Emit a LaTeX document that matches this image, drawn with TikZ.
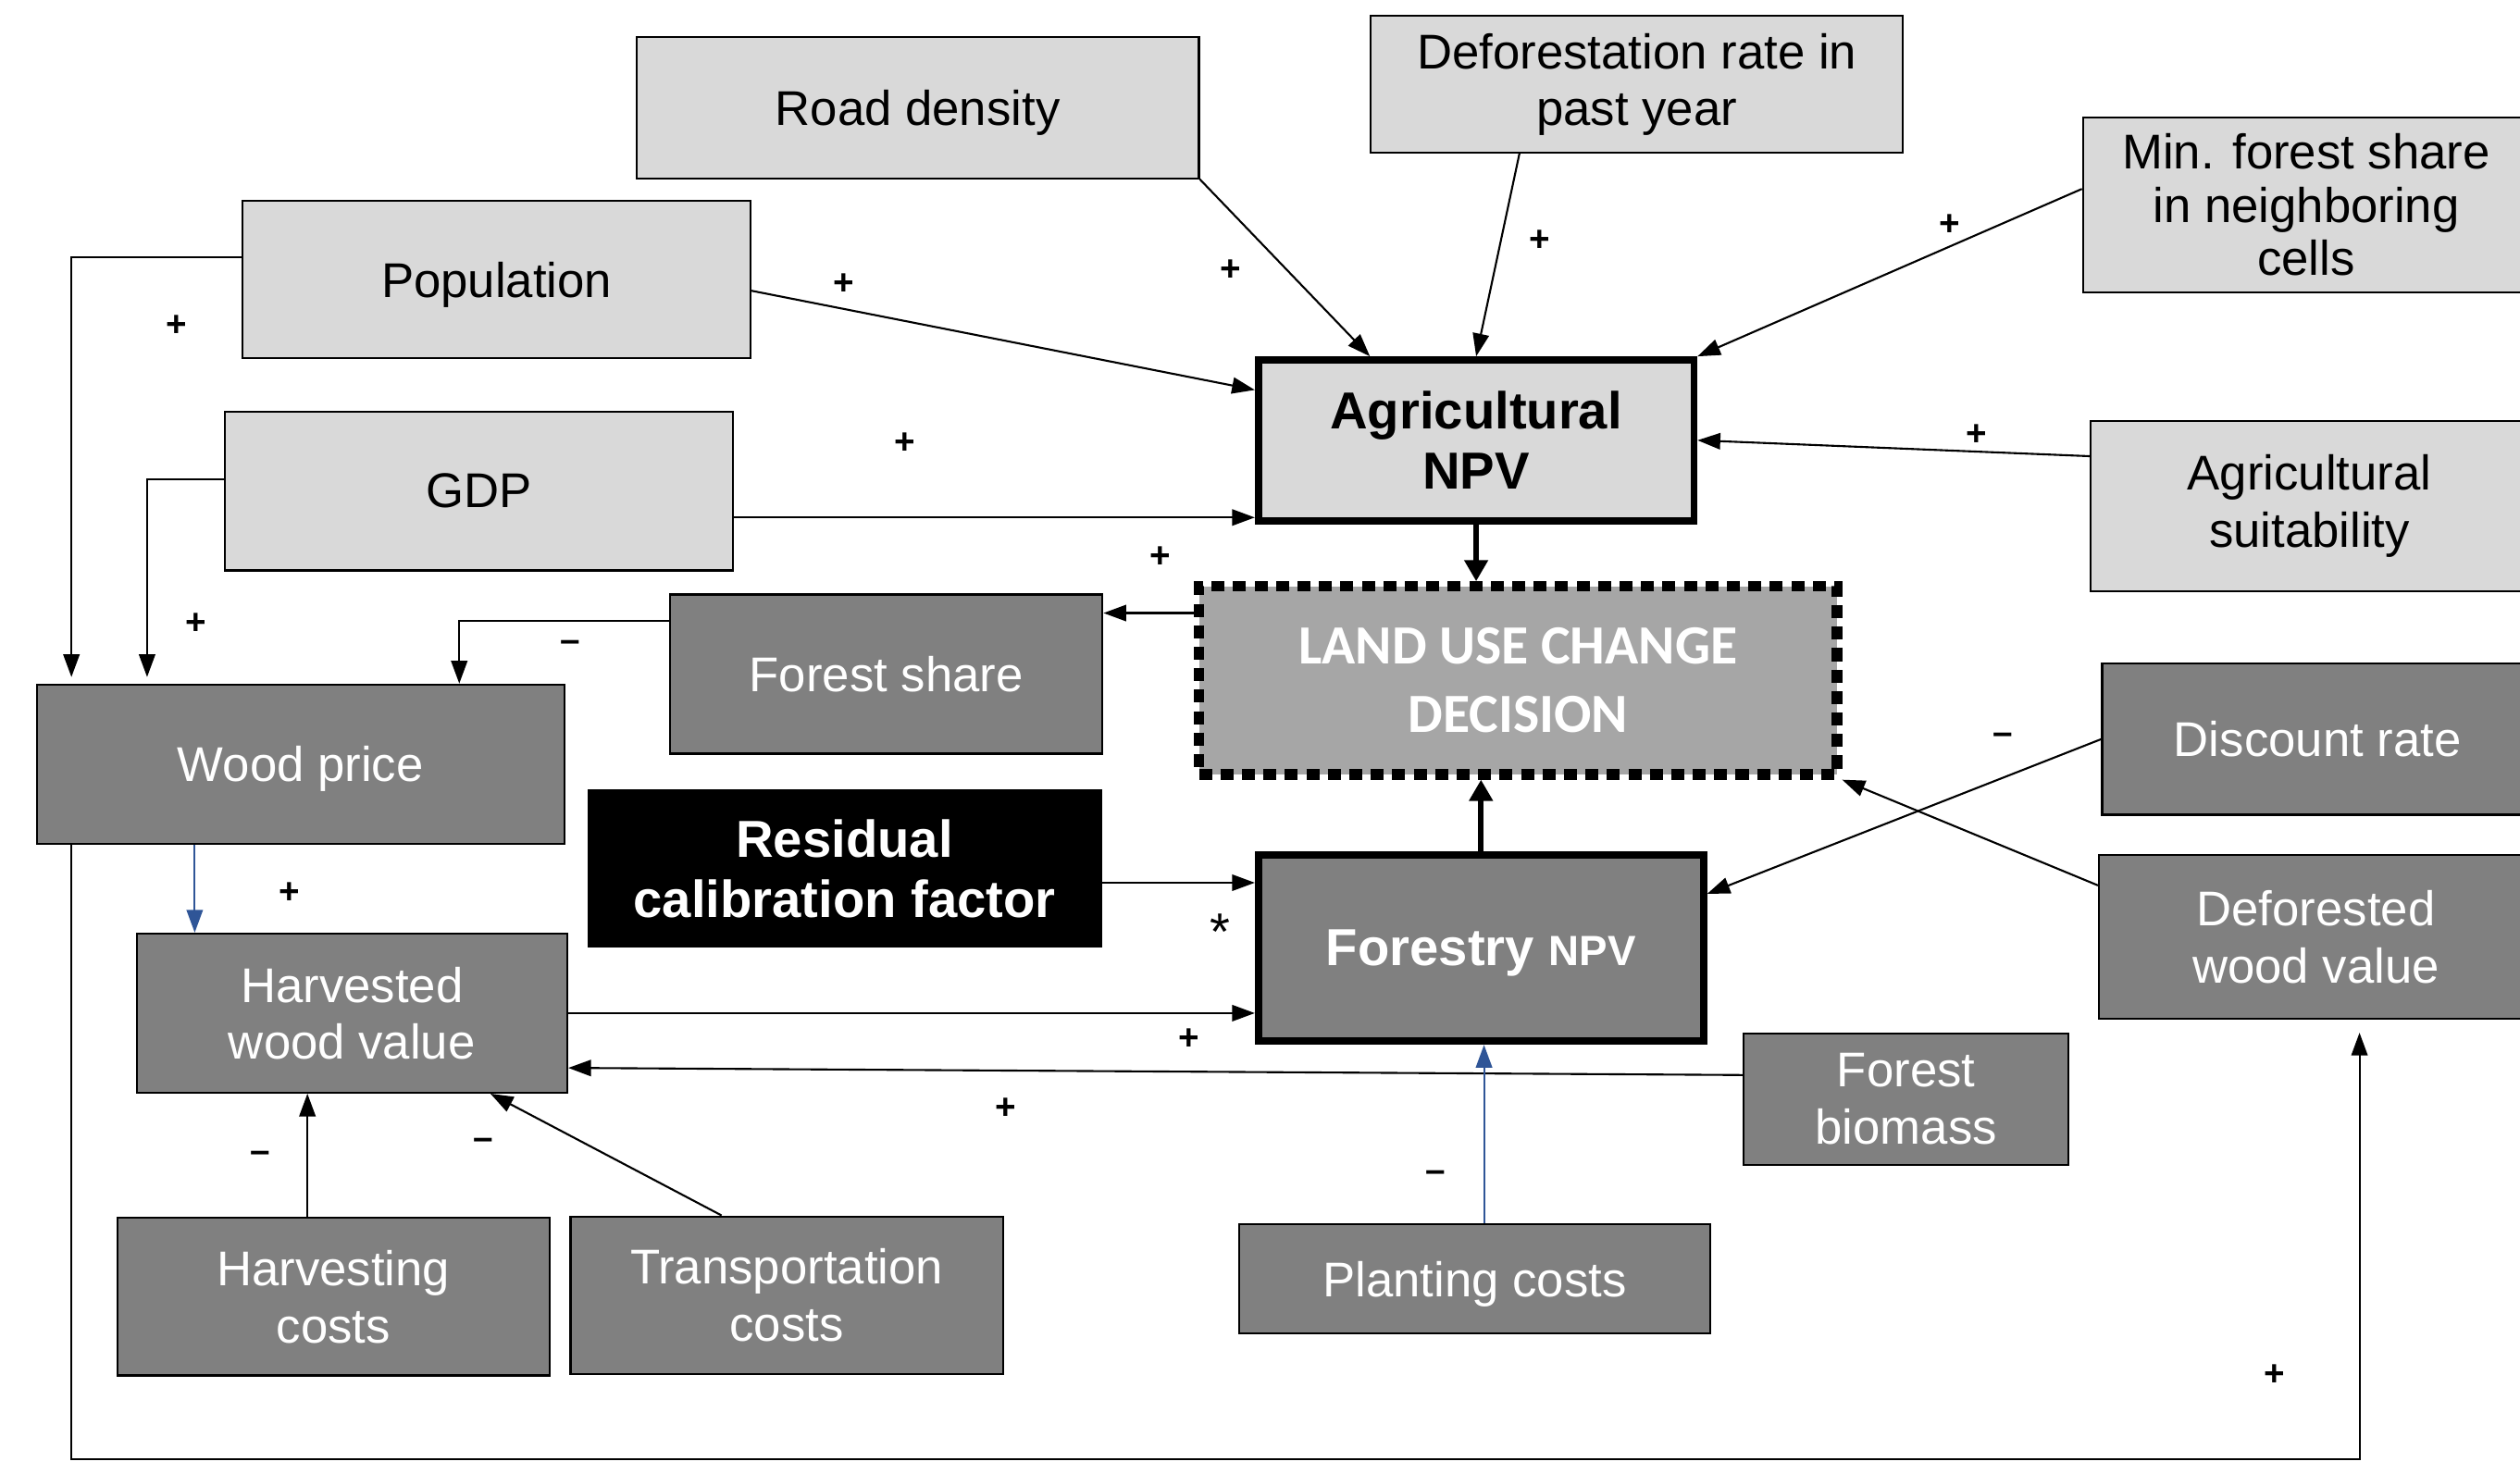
\documentclass[tikz,border=0pt]{standalone}
\usepackage{fontspec}
\setmainfont{Liberation Sans}
\newfontfamily\lucfont{Carlito}
\usetikzlibrary{arrows.meta,calc}

\definecolor{lightbox}{HTML}{D9D9D9}
\definecolor{darkbox}{HTML}{808080}
\definecolor{lucgray}{HTML}{A6A6A6}
\definecolor{linkblue}{HTML}{2F5597}

\begin{document}
\begin{tikzpicture}[x=0.017366cm, y=-0.017366cm,
    font=\fontsize{15}{17.5}\selectfont,
    factor/.style 2 args={rectangle, draw, line width=0.6pt, inner sep=0pt, align=center,
        minimum width=#1*0.017366cm, minimum height=#2*0.017366cm},
    oneline/.style={text depth=0pt},
    driver/.style={fill=lightbox},
    forestry/.style={fill=darkbox, text=white},
    npv/.style={line width=2.2pt, font=\fontsize{16}{18.5}\selectfont\bfseries},
    link/.style={line width=0.6pt, -{Triangle[length=7pt,width=5pt]}},
    mainlink/.style={line width=1.6pt, -{Triangle[length=6.5pt,width=7pt]}},
    sign/.style={font=\fontsize{11}{11}\selectfont\bfseries, inner sep=0pt}]
   \useasboundingbox (0,0) rectangle (1568,917);

   % drivers of agricultural NPV
   \node[factor={350}{88}, driver, oneline] (road) at (571,67) {Road density};
   \node[factor={331}{85}, driver] (deforest) at (1018.5,52.5) {Deforestation rate in\\past year};
   \node[factor={278}{109}, driver, font=\fontsize{15}{16.3}\selectfont] (minforest) at (1435,127.5) {Min. forest share\\in neighboring\\cells};
   \node[factor={316}{98}, driver, oneline] (population) at (309,174) {Population};
   \node[factor={316}{99}, driver, oneline] (gdp) at (298,305.5) {GDP};
   \node[factor={271}{100}, driver, npv] (agrinpv) at (918.5,274) {Agricultural\\NPV};
   \node[factor={272}{106}, driver] (suitability) at (1437,315) {Agricultural\\suitability};

   % decision
   \node[factor={397}{117}, fill=lucgray, line width=3.2pt, dash pattern=on 4pt off 2.6pt,
         text=white, font=\lucfont\fontsize{17}{21}\selectfont\bfseries] (luc) at (944.5,423.5) {LAND USE CHANGE\\DECISION};

   % drivers of forestry NPV
   \node[factor={269}{99}, forestry, oneline] (forestshare) at (551.5,419.5) {Forest share};
   \node[factor={268}{94}, forestry, oneline] (discount) at (1442,460) {Discount rate};
   \node[factor={328}{99}, forestry, oneline] (woodprice) at (187,475.5) {Wood price};
   \node[factor={319}{97}, fill=black, text=white, font=\fontsize{16}{18.5}\selectfont\bfseries] (residual) at (525.5,540.5) {Residual\\calibration factor};
   \node[factor={277}{116}, forestry, npv, oneline] (forestnpv) at (921.5,590) {Forestry {\fontsize{13}{13}\selectfont NPV}};
   \node[factor={270}{102}, forestry] (defwood) at (1441,583) {Deforested\\wood value};
   \node[factor={268}{99}, forestry] (harvwood) at (219,630.5) {Harvested\\wood value};
   \node[factor={202}{82}, forestry] (biomass) at (1186,684) {Forest\\biomass};
   \node[factor={269}{98}, forestry] (harvcost) at (207.5,807) {Harvesting\\costs};
   \node[factor={269}{98}, forestry] (transcost) at (489.5,806) {Transportation\\costs};
   \node[factor={293}{68}, forestry, oneline] (plantcost) at (917.5,796) {Planting costs};

   % links into agricultural NPV
   \draw[link] (road.south east) -- ($(agrinpv.north west)!0.26!(agrinpv.north east)$);
   \draw[link] ($(deforest.south west)!0.28!(deforest.south east)$) -- (agrinpv.north);
   \draw[link] ($(minforest.north west)!0.41!(minforest.south west)$) -- (agrinpv.north east);
   \draw[link] ($(population.north east)!0.57!(population.south east)$) -- ($(agrinpv.north west)!0.2!(agrinpv.south west)$);
   \coordinate (gdpin) at ($(agrinpv.north west)!0.96!(agrinpv.south west)$);
   \draw[link] (gdp.east |- gdpin) -- (gdpin);
   \draw[link] ($(suitability.north west)!0.21!(suitability.south west)$) -- (agrinpv.east);

   % links of the decision
   \draw[mainlink] (agrinpv.south) -- (agrinpv.south |- luc.north);
   \draw[mainlink] (forestnpv.north) -- (forestnpv.north |- luc.south);
   \coordinate (lucout) at ($(luc.north west)!0.16!(luc.south west)$);
   \draw[link] (lucout) -- (lucout -| forestshare.east);

   % links into wood price
   \coordinate (fsout) at ($(forestshare.north west)!0.17!(forestshare.south west)$);
   \draw[link] (fsout) -| ($(woodprice.north west)!0.8!(woodprice.north east)$);
   \draw[link, shorten >=2pt] ($(population.north west)!0.36!(population.south west)$) -| ($(woodprice.north west)!0.067!(woodprice.north east)$);
   \draw[link, shorten >=2pt] ($(gdp.north west)!0.43!(gdp.south west)$) -| ($(woodprice.north west)!0.21!(woodprice.north east)$);
   \coordinate (wpout) at ($(woodprice.south west)!0.3!(woodprice.south east)$);
   \draw[link, draw=linkblue] (wpout) -- (wpout |- harvwood.north);
   \coordinate (loop) at (0,908);
   \coordinate (wploop) at ($(woodprice.south west)!0.067!(woodprice.south east)$);
   \draw[link, shorten >=4pt] (wploop) -- (wploop |- loop) -| ($(defwood.south west)!0.6!(defwood.south east)$);

   % links into forestry NPV
   \draw[link] (harvwood.east) -- (harvwood.east -| forestnpv.west);
   \coordinate (resout) at ($(residual.north east)!0.59!(residual.south east)$);
   \draw[link] (resout) -- (resout -| forestnpv.west);
   \draw[link] ($(biomass.north west)!0.32!(biomass.south west)$) -- ($(harvwood.north east)!0.84!(harvwood.south east)$);
   \coordinate (hcout) at ($(harvcost.north west)!0.44!(harvcost.north east)$);
   \draw[link] (hcout) -- (hcout |- harvwood.south);
   \draw[link] ($(transcost.north west)!0.35!(transcost.north east)$) -- ($(harvwood.south west)!0.82!(harvwood.south east)$);
   \coordinate (pcout) at ($(plantcost.north west)!0.52!(plantcost.north east)$);
   \draw[link, draw=linkblue] (pcout) -- (pcout |- forestnpv.south);
   \draw[link] (discount.west) -- ($(forestnpv.north east)!0.22!(forestnpv.south east)$);
   \draw[link] ($(defwood.north west)!0.19!(defwood.south west)$) -- (luc.south east);

   % signs
   \foreach \sx/\sy/\s [count=\i] in {766/168/+, 958/150/+, 1213/140/+, 525/177/+, 563/276/+,
       1230/271/+, 722/347/+, 355/402/–, 110/203/+, 122/388/+, 180/556/+, 1415/856/+,
       740/647/+, 626/690/+, 162/720/–, 301/712/–, 893/732/–, 1246/460/–}
     \node[sign] (sign\i) at (\sx,\sy) {\s};
   \node[font=\fontsize{16}{16}\selectfont, inner sep=0pt] (star) at (759,580) {*};
\end{tikzpicture}
\end{document}
